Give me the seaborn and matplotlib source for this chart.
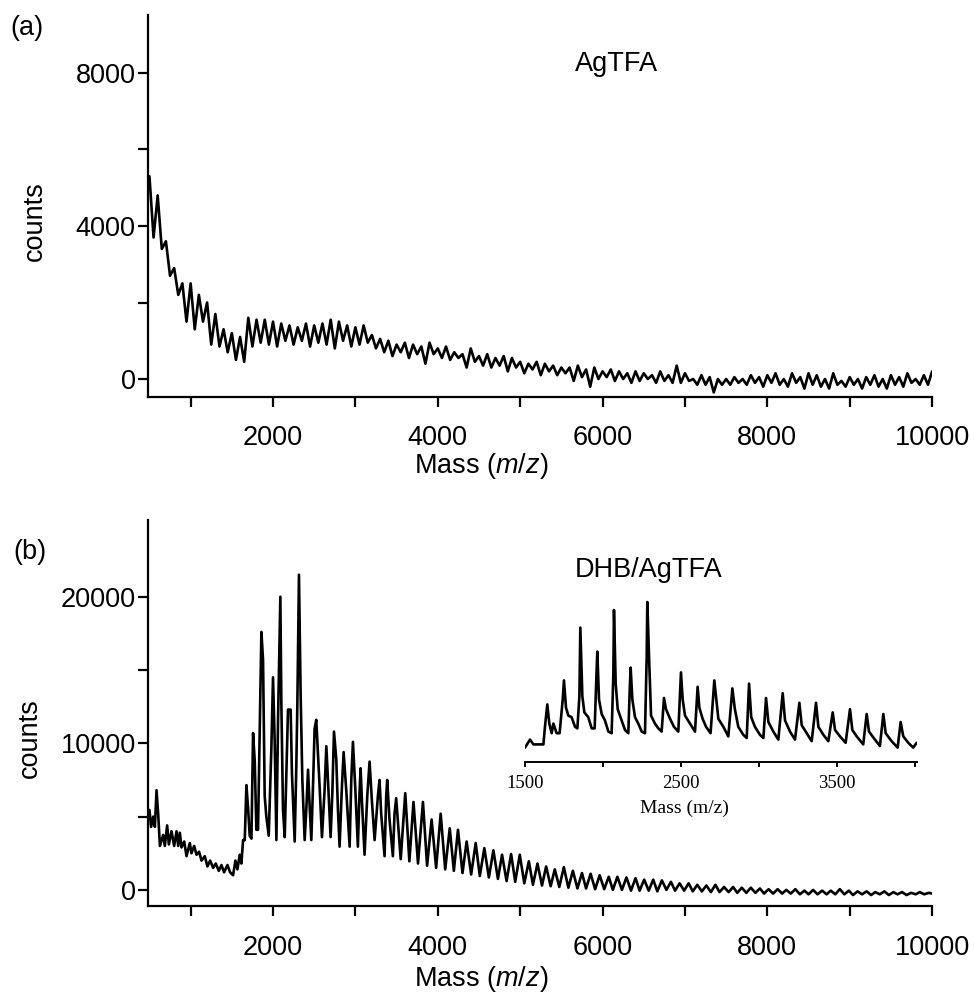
"""Two MALDI spectra: AgTFA alone (a) and DHB/AgTFA (b), with a zoomed inset of the silver cluster series."""
import numpy as np
import matplotlib
matplotlib.use("Agg")
import matplotlib.pyplot as plt
from matplotlib.ticker import FixedLocator, NullFormatter, NullLocator
import seaborn as sns

# (a) AgTFA: counts read every 50 Da from 500 to 10000
MASS_A_STEP = 50
COUNTS_A = [
    5300, 3700, 4800, 3400, 3600, 2700, 2900, 2200, 2500, 1500,
    2500, 1300, 2200, 1500, 2000, 900, 1700, 850, 1300, 700,
    1200, 500, 1100, 450, 1600, 850, 1550, 950, 1550, 900,
    1500, 850, 1450, 1000, 1400, 900, 1350, 1000, 1450, 850,
    1400, 950, 1450, 900, 1550, 800, 1500, 1000, 1400, 850,
    1350, 900, 1400, 950, 1150, 800, 1050, 700, 1000, 600,
    900, 700, 950, 550, 900, 650, 850, 400, 950, 650,
    800, 550, 850, 500, 700, 550, 650, 300, 800, 450,
    600, 350, 650, 300, 550, 350, 600, 200, 550, 300,
    450, 150, 400, 250, 450, 100, 400, 200, 350, 100,
    300, 150, 300, -50, 350, 50, 250, -200, 300, 0,
    200, 50, 250, -50, 200, 0, 150, -100, 200, -50,
    150, 0, 100, -100, 200, -50, 100, -100, 350, -100,
    150, -50, 0, -150, 100, -150, 50, -350, 0, -150,
    0, -150, 50, -100, 0, -150, 100, -100, 50, -200,
    100, -100, 150, -150, 0, -200, 150, -100, 50, -250,
    150, -150, 100, -200, 0, -250, 150, -150, -50, -200,
    50, -150, 0, -250, 50, -150, 100, -200, 0, -250,
    100, -150, 50, -200, 150, -100, 0, -150, 100, -150,
    200,
]

# (b) DHB/AgTFA: matrix region below the cluster series
MASS_B_LOW = [500, 520, 546, 566, 586, 606, 627, 667, 687, 715, 736, 768, 800, 829,
              849, 869, 889, 922, 950, 990, 1010, 1043, 1071, 1103, 1132, 1172,
              1204, 1237, 1273, 1305, 1342, 1374, 1406, 1447, 1479, 1515, 1544,
              1568, 1596, 1616, 1637]
COUNTS_B_LOW = [5450, 4300, 5000, 4300, 6800, 5200, 3000, 3750, 3000, 4400, 3100, 4000,
                3000, 4000, 3000, 3900, 2900, 3300, 2300, 3200, 2500, 3000, 2400,
                2600, 2000, 2300, 1600, 2000, 1500, 1800, 1300, 1700, 1200, 1700,
                1200, 1000, 2000, 1400, 2400, 1800, 3400]

# (b) the strong Ag cluster peaks
MASS_B_CLUSTER = [1657, 1677, 1697, 1717, 1738, 1758, 1778, 1798, 1818, 1839, 1859,
                  1879, 1899, 1919, 1948, 1980, 2000, 2020, 2041, 2061, 2089, 2101,
                  2121, 2142, 2162, 2182, 2214, 2230, 2263, 2283, 2295, 2315, 2335,
                  2356, 2384, 2405, 2425, 2445, 2465, 2485, 2505, 2525, 2546, 2566,
                  2594, 2626, 2647, 2667, 2699, 2720, 2740, 2768, 2788, 2808, 2836,
                  2857, 2889, 2930, 2950, 2970, 2998, 3030, 3050, 3063, 3079, 3111,
                  3144, 3172, 3200, 3233, 3273, 3293, 3313, 3354, 3374, 3386, 3414,
                  3455, 3475, 3495]
COUNTS_B_CLUSTER = [3400, 7150, 5600, 3700, 3500, 10700, 8800, 4100, 4100, 10800, 17600,
                    15700, 6400, 5000, 3700, 9700, 14500, 10200, 3400, 11600, 20000,
                    12800, 5500, 3600, 7900, 12300, 12300, 7900, 3300, 8500, 12500,
                    21500, 13400, 7500, 3400, 5600, 8200, 5700, 3400, 7000, 11000,
                    11600, 9300, 7000, 3600, 6800, 9800, 7500, 3600, 6600, 10800,
                    8900, 5500, 2950, 7000, 9400, 6800, 2950, 7500, 10100, 7000,
                    2950, 6600, 8300, 6100, 2400, 6400, 8750, 6100, 3400, 6400, 7500,
                    5200, 2300, 6400, 7500, 4800, 2300, 5200, 6250]

# (b) decaying tail of the series, valley / peak pairs
MASS_B_TAIL = [3550, 3605, 3655, 3705, 3760, 3820, 3870, 3925, 3980, 4035, 4090, 4145,
               4195, 4245, 4300, 4350, 4405, 4460, 4510, 4565, 4620, 4675, 4730, 4780,
               4835, 4890, 4940, 4995, 5050, 5105, 5155, 5210, 5265, 5315, 5370, 5420,
               5475, 5530, 5585, 5640, 5695, 5750, 5800, 5855, 5910, 5965, 6020, 6075,
               6125, 6180, 6235, 6290, 6345, 6400, 6450, 6505, 6560, 6615, 6665, 6720,
               6775, 6830, 6880, 6935, 6990, 7045, 7095, 7150, 7205, 7260, 7315, 7370,
               7420, 7475, 7530, 7585, 7635, 7690, 7745, 7800, 7855, 7910, 7960, 8015,
               8070, 8125, 8180, 8230, 8285, 8340, 8395, 8450, 8500, 8555, 8610, 8665,
               8720, 8770, 8825, 8880, 8935, 8990, 9040, 9095, 9150, 9205, 9260, 9310,
               9365, 9420, 9475, 9530, 9580, 9635, 9690, 9745, 9800, 9850, 9905, 9960,
               10000]
COUNTS_B_TAIL = [2100, 6600, 1950, 6000, 1800, 6000, 1650, 4800, 1500, 5200, 1400, 4200,
                 1300, 4100, 1150, 3300, 1050, 3200, 950, 2850, 850, 2700, 750, 2400,
                 600, 2450, 550, 2400, 450, 1950, 350, 1800, 300, 1600, 250, 1400,
                 200, 1550, 150, 1300, 100, 1150, 100, 1100, 50, 1000, 50, 900,
                 0, 900, 0, 850, -50, 800, -50, 700, -50, 700, -100, 650,
                 0, 550, -50, 450, -50, 450, -100, 350, -100, 300, -150, 350,
                 -150, 200, -150, 200, -200, 150, -200, 150, -200, 100, -250, 50,
                 -250, 50, -250, 0, -250, 50, -300, -50, -300, 0, -300, -50,
                 -300, -50, -300, 50, -300, -50, -350, -100, -300, -100, -350, -150,
                 -300, -100, -350, -150, -300, -150, -350, -200, -300, -150, -300, -200,
                 -250]

# inset: higher resolution trace, relative intensity (%)
INSET_MASS = [1498, 1530, 1552, 1616, 1626, 1641, 1654, 1669, 1680, 1701, 1720, 1740,
              1748, 1761, 1776, 1797, 1819, 1834, 1847, 1853, 1866, 1879, 1904, 1926,
              1945, 1956, 1962, 1973, 1990, 2011, 2033, 2054, 2065, 2069, 2080, 2093,
              2118, 2140, 2161, 2170, 2176, 2187, 2204, 2225, 2247, 2268, 2279, 2283,
              2294, 2307, 2332, 2354, 2375, 2390, 2403, 2429, 2454, 2482, 2499, 2510,
              2525, 2557, 2589, 2606, 2617, 2638, 2660, 2689, 2713, 2739, 2771, 2803,
              2829, 2845, 2867, 2899, 2921, 2936, 2950, 2974, 3006, 3028, 3045, 3060,
              3092, 3124, 3152, 3167, 3199, 3231, 3259, 3274, 3306, 3338, 3366, 3381,
              3413, 3445, 3473, 3488, 3520, 3556, 3584, 3599, 3627, 3669, 3691, 3706,
              3744, 3776, 3798, 3813, 3851, 3890, 3909, 3926, 3958, 3990, 4012]
INSET_INTENSITY = [9, 14, 11, 11, 22, 36, 24, 18, 24, 18, 18, 39,
                   51, 34, 29, 28, 22, 21, 41, 84, 41, 31, 28, 21,
                   21, 53, 69, 39, 30, 26, 19, 18, 55, 95, 49, 33,
                   26, 20, 18, 45, 59, 39, 28, 24, 19, 18, 66, 100,
                   66, 29, 24, 21, 19, 40, 33, 27, 22, 19, 56, 39,
                   29, 24, 19, 47, 34, 27, 22, 18, 51, 27, 22, 16,
                   46, 33, 22, 17, 15, 49, 28, 22, 17, 15, 40, 25,
                   19, 14, 43, 26, 19, 14, 37, 23, 18, 13, 37, 22,
                   17, 13, 31, 20, 16, 12, 33, 20, 16, 11, 30, 19,
                   14, 10, 30, 18, 13, 9, 25, 16, 12, 9, 12]

SANS = ["Liberation Sans", "DejaVu Sans"]
SERIF = ["Liberation Serif", "DejaVu Serif"]
FS = 19.5
LW = 1.6
TRACE_LW = 1.9


def style_main(ax, ylim, ymajor, yminor, ylabel_x, ylabel_y, xlabel_y):
    ax.set_xlim(485, 10000)
    ax.set_ylim(*ylim)
    sns.despine(ax=ax)
    for side in ("left", "bottom"):
        ax.spines[side].set_linewidth(LW)
        ax.spines[side].set_color("black")
    ax.xaxis.set_major_locator(FixedLocator([2000, 4000, 6000, 8000, 10000]))
    ax.xaxis.set_minor_locator(FixedLocator([1000, 3000, 5000, 7000, 9000]))
    ax.yaxis.set_major_locator(FixedLocator(ymajor))
    ax.yaxis.set_minor_locator(FixedLocator(yminor))
    ax.xaxis.set_minor_formatter(NullFormatter())
    ax.yaxis.set_minor_formatter(NullFormatter())
    ax.tick_params(which="both", direction="out", length=7.5, width=LW,
                   color="black", labelcolor="black")
    ax.tick_params(axis="x", which="major", labelsize=FS, pad=13)
    ax.tick_params(axis="y", which="major", labelsize=FS, pad=1.5)
    ax.set_xlabel("Mass ($m/z$)", fontsize=FS, color="black")
    ax.set_ylabel("counts", fontsize=FS, color="black")
    ax.xaxis.set_label_coords(0.425, xlabel_y)
    ax.xaxis.label.set_va("center")
    ax.yaxis.set_label_coords(ylabel_x, ylabel_y)
    ax.yaxis.label.set_va("center")


def main():
    sns.set_style("ticks")
    plt.rcParams["font.family"] = SANS
    plt.rcParams["text.color"] = "black"
    plt.rcParams["axes.labelcolor"] = "black"
    plt.rcParams["xtick.color"] = "black"
    plt.rcParams["ytick.color"] = "black"
    plt.rcParams["mathtext.fontset"] = "custom"
    plt.rcParams["mathtext.rm"] = "Liberation Sans"
    plt.rcParams["mathtext.it"] = "Liberation Sans:italic"

    mass_a = np.arange(500, 10001, MASS_A_STEP)
    mass_b = np.array(MASS_B_LOW + MASS_B_CLUSTER + MASS_B_TAIL)
    counts_b = np.array(COUNTS_B_LOW + COUNTS_B_CLUSTER + COUNTS_B_TAIL)

    fig = plt.figure(figsize=(9.75, 9.94), dpi=100)
    ax_a = fig.add_axes([0.152, 0.6006, 0.804, 0.3843])
    ax_b = fig.add_axes([0.152, 0.0885, 0.804, 0.3883])
    ax_in = fig.add_axes([0.5388, 0.2334, 0.4017, 0.167])

    sns.lineplot(x=mass_a, y=COUNTS_A, ax=ax_a, color="black", linewidth=TRACE_LW,
                 estimator=None)
    style_main(ax_a, (-470, 9515), [0, 4000, 8000], [2000, 6000],
               -0.144, 0.46, -0.18)

    sns.lineplot(x=mass_b, y=counts_b, ax=ax_b, color="black", linewidth=TRACE_LW,
                 estimator=None)
    style_main(ax_b, (-1100, 25230), [0, 10000, 20000], [5000, 15000],
               -0.151, 0.435, -0.19)

    sns.lineplot(x=INSET_MASS, y=INSET_INTENSITY, ax=ax_in, color="black",
                 linewidth=1.9, estimator=None)
    ax_in.set_xlim(1500, 4014)
    ax_in.set_ylim(0, 103.75)
    ax_in.patch.set_alpha(0)
    for side in ("left", "top", "right"):
        ax_in.spines[side].set_visible(False)
    ax_in.spines["bottom"].set_linewidth(1.4)
    ax_in.spines["bottom"].set_color("black")
    ax_in.yaxis.set_major_locator(NullLocator())
    ax_in.xaxis.set_major_locator(FixedLocator([1500, 2500, 3500]))
    ax_in.xaxis.set_minor_locator(FixedLocator([2000, 3000, 4000]))
    ax_in.xaxis.set_minor_formatter(NullFormatter())
    ax_in.tick_params(which="both", direction="out", length=3.5, width=1.4, pad=6,
                      color="black", labelcolor="black")
    for lab in ax_in.get_xticklabels():
        lab.set_fontfamily(SERIF)
        lab.set_fontsize(13.5)
    ax_in.set_xlabel("Mass (m/z)", fontsize=14, family=SERIF, color="black")
    ax_in.xaxis.set_label_coords(0.405, -0.277)
    ax_in.xaxis.label.set_va("center")

    fig.text(27 / 975, 1 - 28 / 994, "(a)", ha="center", va="center", fontsize=FS)
    fig.text(30 / 975, 1 - 552 / 994, "(b)", ha="center", va="center", fontsize=FS)
    fig.text(617 / 975, 1 - 64 / 994, "AgTFA", ha="center", va="center", fontsize=FS)
    fig.text(649 / 975, 1 - 570 / 994, "DHB/AgTFA", ha="center", va="center", fontsize=FS)

    fig.savefig("out.png", dpi=100)


if __name__ == "__main__":
    main()
